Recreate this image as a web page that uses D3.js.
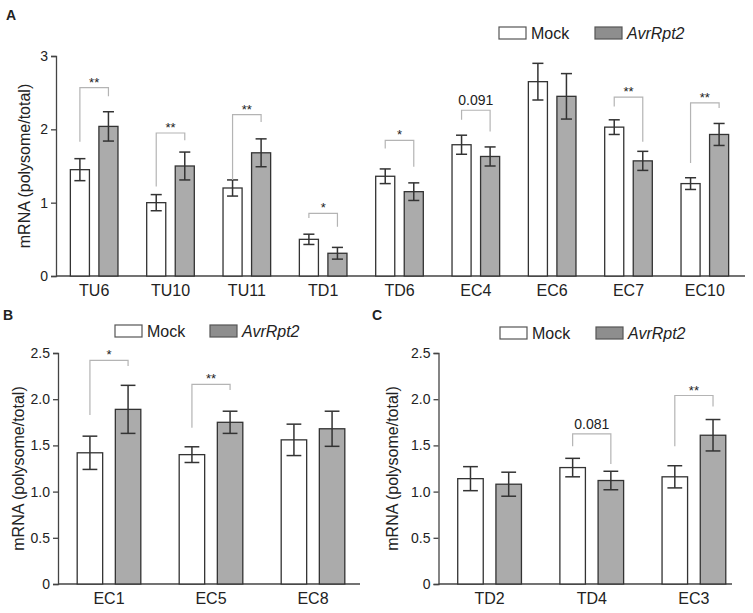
<!DOCTYPE html>
<html><head><meta charset="utf-8">
<script src="https://cdn.jsdelivr.net/npm/d3@7"></script>
<style>body{margin:0;background:#fff}svg{display:block;font-family:Arial,"Liberation Sans",sans-serif}</style>
</head><body><svg id="chart" width="753" height="613"></svg>
<script>
// ---- Panel A data ----
const catsA = ["TU6","TU10","TU11","TD1","TD6","EC4","EC6","EC7","EC10"];
const mockA = [1.45,1.00,1.20,0.50,1.36,1.79,2.65,2.03,1.26];
const mockErrA = [0.15,0.11,0.11,0.07,0.10,0.13,0.25,0.10,0.08];
const avrA = [2.04,1.50,1.68,0.31,1.15,1.63,2.45,1.57,1.93];
const avrErrA = [0.20,0.19,0.19,0.08,0.12,0.13,0.31,0.13,0.15];
const sigCatsA = ["TU6","TU10","TU11","TD1","TD6","EC4","EC7","EC10"];
const sigLabelsA = ["**","**","**","*","*","0.091","**","**"];
const sigLevelA = [2.57,1.95,2.20,0.855,1.85,2.26,2.44,2.36];
const sigLegMockA = [1.83,1.22,1.31,0.79,1.74,2.13,2.31,1.54];
const sigLegAvrA = [2.45,1.85,2.10,0.67,1.49,1.97,1.83,2.29];
const ticksA = [0,1,2,3];
const tickLabelsA = ["0","1","2","3"];

// ---- Panel B data ----
const catsB = ["EC1","EC5","EC8"];
const mockB = [1.42,1.40,1.56];
const mockErrB = [0.18,0.085,0.17];
const avrB = [1.89,1.75,1.68];
const avrErrB = [0.26,0.12,0.19];
const sigCatsB = ["EC1","EC5"];
const sigLabelsB = ["*","**"];
const sigLevelB = [2.42,2.16];
const sigLegMockB = [1.83,1.69];
const sigLegAvrB = [2.36,2.10];

// ---- Panel C data ----
const catsC = ["TD2","TD4","EC3"];
const mockC = [1.14,1.26,1.16];
const mockErrC = [0.13,0.10,0.12];
const avrC = [1.08,1.12,1.61];
const avrErrC = [0.13,0.10,0.17];
const sigCatsC = ["TD4","EC3"];
const sigLabelsC = ["0.081","**"];
const sigLevelC = [1.625,2.04];
const sigLegMockC = [1.49,1.49];
const sigLegAvrC = [1.30,1.92];

const ticksBC = [0,0.5,1.0,1.5,2.0,2.5];
const tickLabelsBC = ["0","0.5","1.0","1.5","2.0","2.5"];
const seriesNames = ["Mock","AvrRpt2"];
const yTitle = "mRNA (polysome/total)";

const svg = d3.select("#chart");
const DARK = "#333";
const GREY = "#ababab";

function panel(p) {
  const g = svg.append("g");
  const x = d3.scaleBand().domain(p.cats).range([p.x0, p.x1]).padding(0);
  const xi = d3.scaleBand().domain(seriesNames).range([0, x.step()]).paddingInner(0.332).paddingOuter(0.503);
  const y = d3.scaleLinear().domain([0, p.ymax]).range([p.yb, p.yt]);
  const bw = xi.bandwidth();

  // y axis
  const ya = d3.axisLeft(y).tickValues(p.ticks).tickFormat((d,i)=>p.tickLabels[i]).tickSizeOuter(0).tickSize(5).tickPadding(3);
  const yg = g.append("g").attr("transform",`translate(${p.x0},0)`).call(ya);
  yg.selectAll("path,line").attr("stroke","#444").attr("stroke-width",1.3);
  yg.selectAll("text").attr("font-size",14).attr("fill","#222").attr("font-family","Arial, 'Liberation Sans', sans-serif");

  // x axis (labels only) + baseline
  const xa = d3.axisBottom(x).tickSize(0).tickPadding(8.5);
  const xg = g.append("g").attr("transform",`translate(0,${p.yb})`).call(xa);
  xg.select(".domain").remove();
  xg.selectAll("text").attr("font-size",16).attr("fill","#222").attr("font-family","Arial, 'Liberation Sans', sans-serif");
  g.append("line").attr("x1",p.x0).attr("x2",p.axisEnd).attr("y1",p.yb).attr("y2",p.yb).attr("stroke","#444").attr("stroke-width",1.3);

  // bars
  const series = [
    {name:"Mock", vals:p.mock, errs:p.mockErr, fill:"#fff"},
    {name:"AvrRpt2", vals:p.avr, errs:p.avrErr, fill:GREY}
  ];
  series.forEach(s => {
    p.cats.forEach((c,i) => {
      const bx = x(c) + xi(s.name);
      g.append("rect").attr("x",bx).attr("y",y(s.vals[i])).attr("width",bw).attr("height",y(0)-y(s.vals[i]))
        .attr("fill",s.fill).attr("stroke",DARK).attr("stroke-width",1.3);
    });
  });
  // error bars
  const cw = bw*0.58;
  series.forEach(s => {
    p.cats.forEach((c,i) => {
      const cx = x(c) + xi(s.name) + bw/2;
      const hi = y(s.vals[i]+s.errs[i]), lo = y(s.vals[i]-s.errs[i]);
      g.append("line").attr("x1",cx).attr("x2",cx).attr("y1",hi).attr("y2",lo).attr("stroke",DARK).attr("stroke-width",1.5);
      g.append("line").attr("x1",cx-cw/2).attr("x2",cx+cw/2).attr("y1",hi).attr("y2",hi).attr("stroke",DARK).attr("stroke-width",1.5);
      g.append("line").attr("x1",cx-cw/2).attr("x2",cx+cw/2).attr("y1",lo).attr("y2",lo).attr("stroke",DARK).attr("stroke-width",1.5);
    });
  });
  // significance brackets
  p.sigCats.forEach((c,i) => {
    const xm = x(c) + xi("Mock") + bw/2;
    const xv = x(c) + xi("AvrRpt2") + bw/2;
    const ly = y(p.sigLevel[i]);
    g.append("path").attr("d",`M${xm},${y(p.sigLegMock[i])}V${ly}H${xv}V${y(p.sigLegAvr[i])}`)
      .attr("fill","none").attr("stroke","#b4b4b4").attr("stroke-width",1.2);
    const isStar = p.sigLabels[i].indexOf("*")>=0;
    g.append("text").attr("x",(xm+xv)/2).attr("y", isStar ? ly-1 : ly-5)
      .attr("text-anchor","middle").attr("font-size", isStar ? 13 : 14).attr("fill","#222")
      .text(p.sigLabels[i]);
  });
  // y title
  g.append("text").attr("transform",`translate(${p.titleX},${(p.yb+p.yt)/2}) rotate(-90)`)
    .attr("text-anchor","middle").attr("font-size",16).attr("fill","#222").text(yTitle);
  // panel letter
  g.append("text").attr("x",p.letterX).attr("y",p.letterY).attr("font-size",14).attr("font-weight","bold").attr("fill","#222").text(p.letter);
  // legend
  const lg = g.append("g");
  [[p.leg[0],"#fff","normal"],[p.leg[1],"#8e8e8e","italic"]].forEach((L,k) => {
    lg.append("rect").attr("x",L[0]).attr("y",p.legY).attr("width",27).attr("height",12)
      .attr("fill",L[1]).attr("stroke","#555").attr("stroke-width",1.2);
    lg.append("text").attr("x",L[0]+32).attr("y",p.legY+12).attr("font-size",16).attr("font-style",L[2]).attr("fill","#222").text(seriesNames[k]);
  });
}

panel({cats:catsA, mock:mockA, mockErr:mockErrA, avr:avrA, avrErr:avrErrA,
  sigCats:sigCatsA, sigLabels:sigLabelsA, sigLevel:sigLevelA, sigLegMock:sigLegMockA, sigLegAvr:sigLegAvrA,
  ticks:ticksA, tickLabels:tickLabelsA, ymax:3,
  x0:56, x1:743, axisEnd:745, yb:276, yt:56, titleX:30, letter:"A", letterX:6, letterY:20,
  leg:[499,595], legY:27});
panel({cats:catsB, mock:mockB, mockErr:mockErrB, avr:avrB, avrErr:avrErrB,
  sigCats:sigCatsB, sigLabels:sigLabelsB, sigLevel:sigLevelB, sigLegMock:sigLegMockB, sigLegAvr:sigLegAvrB,
  ticks:ticksBC, tickLabels:tickLabelsBC, ymax:2.5,
  x0:58, x1:364, axisEnd:360, yb:584, yt:353, titleX:24, letter:"B", letterX:3, letterY:320,
  leg:[115,210], legY:325});
panel({cats:catsC, mock:mockC, mockErr:mockErrC, avr:avrC, avrErr:avrErrC,
  sigCats:sigCatsC, sigLabels:sigLabelsC, sigLevel:sigLevelC, sigLegMock:sigLegMockC, sigLegAvr:sigLegAvrC,
  ticks:ticksBC, tickLabels:tickLabelsBC, ymax:2.5,
  x0:438.5, x1:745, axisEnd:732, yb:584, yt:353, titleX:398, letter:"C", letterX:372, letterY:320,
  leg:[500,596], legY:327});
</script></body></html>
